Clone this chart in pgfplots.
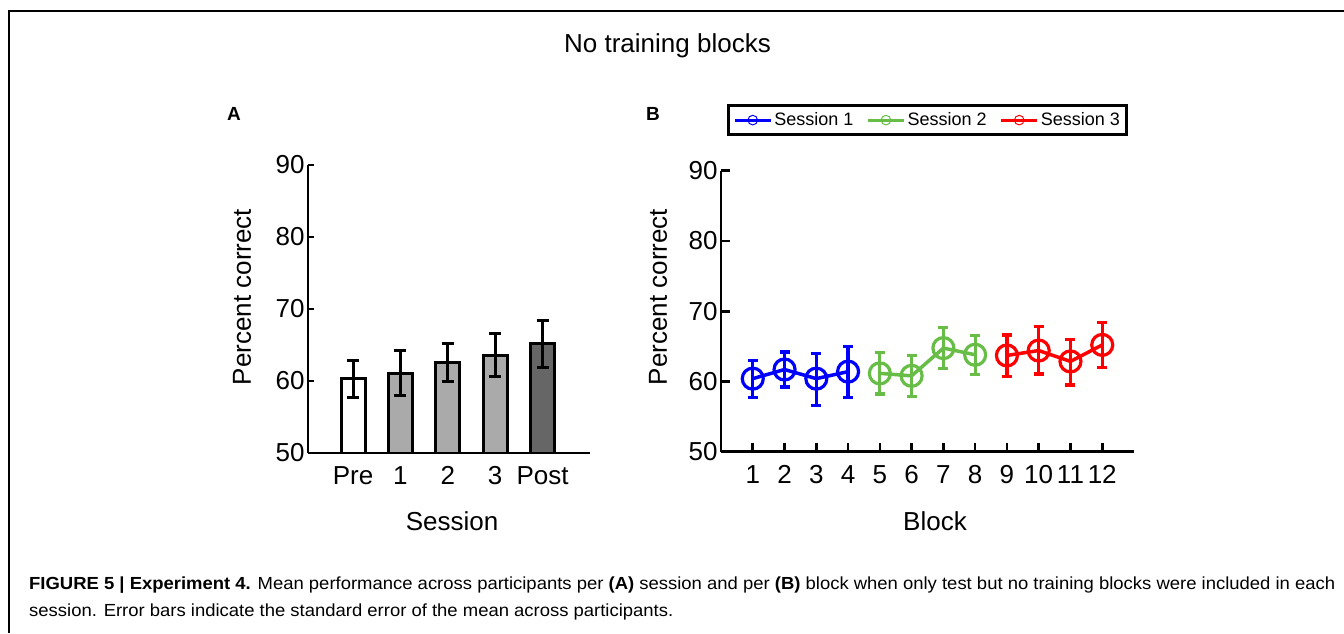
\documentclass[border=0pt]{standalone}
\usepackage{pgfplots}
\pgfplotsset{compat=1.18}
\usepackage{fontspec}
\setmainfont{Liberation Sans}
\usepackage{graphicx}
\definecolor{sgreen}{RGB}{104,189,70}
\definecolor{bargray}{RGB}{170,170,170}
\definecolor{darkbar}{RGB}{102,102,102}
\newcommand{\fs}[1]{\fontsize{#1}{#1}\selectfont}
\pgfplotsset{
  barA/.style={ybar, bar width=24pt, bar shift=0pt, draw=black, line width=3pt,
    error bars/.cd, y dir=both, y explicit,
    error bar style={line width=3pt, black},
    error mark options={rotate=90, mark size=6pt, line width=3pt, black}},
  lineB/.style={line width=3.5pt, mark=o, mark size=10.5pt, mark options={line width=3.2pt, solid},
    error bars/.cd, y dir=both, y explicit,
    error bar style={line width=3.2pt},
    error mark options={rotate=90, mark size=5pt, line width=3.2pt}},
}
\begin{document}
\begin{tikzpicture}
\useasboundingbox (0,0) rectangle (1344pt,633pt);
\fill[white] (0,0) rectangle (1344pt,633pt);
\draw[line width=1.5pt] (9pt,0pt) -- (9pt,622pt) -- (1344pt,622pt);
\node[anchor=base, inner sep=0pt, font=\fs{26}] at (667.5pt,580pt) {No training blocks};
\node[anchor=base west, inner sep=0pt, font=\fs{19}\bfseries] at (227pt,512pt) {A};
\node[anchor=base west, inner sep=0pt, font=\fs{19}\bfseries] at (646pt,512pt) {B};
\node[rotate=90, inner sep=0pt, font=\fs{26}] at (242pt,336pt) {Percent correct};
\node[rotate=90, inner sep=0pt, font=\fs{26}] at (658pt,336pt) {Percent correct};
\node[anchor=base, inner sep=0pt, font=\fs{26}] at (452pt,103pt) {Session};
\node[anchor=base, inner sep=0pt, font=\fs{26}] at (935pt,103pt) {Block};

\begin{axis}[
  at={(308pt,180pt)}, anchor=south west, scale only axis, width=282pt, height=288pt,
  xmin=0.05, xmax=6, ymin=50, ymax=90,
  axis x line*=bottom, axis y line*=left,
  axis line style={line width=2.6pt},
  xtick={1,2,3,4,5}, xticklabels={Pre,1,2,3,Post},
  xtick style={draw=none},
  ytick={50,60,70,80,90},
  tick align=inside, major tick length=6pt,
  ytick style={line width=2.6pt, black},
  tick label style={font=\fs{26}},
  xticklabel style={yshift=-10pt},
  /pgf/number format/assume math mode=true,
]
\addplot[fill=white, barA] coordinates {(1,60.3) += (0,2.6) -= (0,2.6)};
\addplot[fill=bargray, barA] coordinates {(2,61.1) += (0,3.1) -= (0,3.1) (3,62.6) += (0,2.6) -= (0,2.6) (4,63.6) += (0,3.0) -= (0,3.0)};
\addplot[fill=darkbar, barA] coordinates {(5,65.2) += (0,3.2) -= (0,3.3)};
\end{axis}

\begin{axis}[
  at={(721pt,181.3pt)}, anchor=south west, scale only axis, width=413pt, height=281pt,
  xmin=0, xmax=13, ymin=50, ymax=90,
  axis x line*=bottom, axis y line*=left,
  axis line style={line width=2.6pt},
  xtick={1,...,12}, ytick={50,60,70,80,90},
  tick align=inside, major tick length=9pt,
  tick style={line width=2.6pt, black},
  tick label style={font=\fs{26}},
  xticklabel style={yshift=-10pt},
  /pgf/number format/assume math mode=true,
  clip=false,
  legend style={at={(0.5,1.18)}, anchor=center, draw=black, line width=2.8pt,
    font=\fs{18}, inner sep=5pt,
    /tikz/every even column/.append style={column sep=11pt}},
  legend columns=3,
  legend image code/.code={\draw[line width=3.2pt] (0pt,0pt) -- (36pt,0pt);
    \draw[line width=1pt] (18pt,0pt) circle (4.8pt);},
]
\addplot[blue, lineB] coordinates {
 (1,60.4) += (0,2.55) -= (0,2.7)
 (2,61.7) += (0,2.5) -= (0,2.5)
 (3,60.4) += (0,3.6) -= (0,3.8)
 (4,61.4) += (0,3.6) -= (0,3.7)};
\addlegendentry{Session 1}
\addplot[sgreen, lineB] coordinates {
 (5,61.15) += (0,2.95) -= (0,2.95)
 (6,60.8) += (0,2.9) -= (0,2.9)
 (7,64.75) += (0,2.95) -= (0,2.95)
 (8,63.8) += (0,2.7) -= (0,2.8)};
\addlegendentry{Session 2}
\addplot[red, lineB] coordinates {
 (9,63.7) += (0,2.9) -= (0,3.0)
 (10,64.4) += (0,3.4) -= (0,3.35)
 (11,62.85) += (0,3.15) -= (0,3.35)
 (12,65.2) += (0,3.2) -= (0,3.2)};
\addlegendentry{Session 3}
\end{axis}

\node[anchor=base west, inner sep=0pt] at (29pt,44pt) {\resizebox{1306pt}{\height}{\fontsize{17.5}{27}\selectfont\begin{tabular}[t]{@{}l@{}}\textbf{FIGURE 5 | Experiment 4.} Mean performance across participants per \textbf{(A)} session and per \textbf{(B)} block when only test but no training blocks were included in each\\ session. Error bars indicate the standard error of the mean across participants.\end{tabular}}};
\end{tikzpicture}
\end{document}
